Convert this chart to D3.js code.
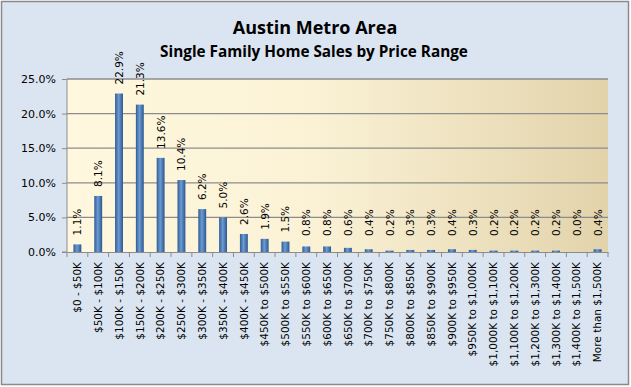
<!DOCTYPE html>
<html>
<head>
<meta charset="utf-8">
<script src="https://cdn.jsdelivr.net/npm/d3@7"></script>
<style>
  body { margin: 0; background: #fff; }
  text { font-family: "DejaVu Sans", sans-serif; }
</style>
</head>
<body>
<div class="chart"></div>
<script>
// chart data
const categories = ["$0 - $50K", "$50K - $100K", "$100K - $150K", "$150K - $200K", "$200K - $250K",
  "$250K - $300K", "$300K - $350K", "$350K - $400K", "$400K - $450K", "$450K to $500K",
  "$500K to $550K", "$550K to $600K", "$600K to $650K", "$650K to $700K", "$700K to $750K",
  "$750K to $800K", "$800K to $850K", "$850K to $900K", "$900K to $950K", "$950K to $1,000K",
  "$1,000K to $1,100K", "$1,100K to $1,200K", "$1,200K to $1,300K", "$1,300K to $1,400K",
  "$1,400K to $1,500K", "More than $1,500K"];
const shares = [1.1, 8.1, 22.9, 21.3, 13.6, 10.4, 6.2, 5.0, 2.6, 1.9, 1.5, 0.8, 0.8, 0.6, 0.4,
  0.2, 0.3, 0.3, 0.4, 0.3, 0.2, 0.2, 0.2, 0.2, 0.0, 0.4];
const yTicks = [0, 5, 10, 15, 20, 25];
const title = "Austin Metro Area";
const subtitle = "Single Family Home Sales by Price Range";

const W = 631, H = 387;
const margin = {top: 79, left: 67, right: 23, bottom: 135};
const width = W - margin.left - margin.right;
const height = H - margin.top - margin.bottom;

const root = d3.select(".chart").append("svg")
    .attr("width", W)
    .attr("height", H);

// gradients
const defs = root.append("defs");
const plotGrad = defs.append("linearGradient").attr("id", "plotbg")
    .attr("x1", "0%").attr("x2", "100%").attr("y1", "0%").attr("y2", "0%");
plotGrad.append("stop").attr("offset", "0%").attr("stop-color", "#fff8de");
plotGrad.append("stop").attr("offset", "45%").attr("stop-color", "#fbf2d6");
plotGrad.append("stop").attr("offset", "100%").attr("stop-color", "#e2d3ab");

const barGrad = defs.append("linearGradient").attr("id", "bar")
    .attr("x1", "0%").attr("x2", "100%").attr("y1", "0%").attr("y2", "0%");
barGrad.append("stop").attr("offset", "0%").attr("stop-color", "#2f5b92");
barGrad.append("stop").attr("offset", "45%").attr("stop-color", "#6d9bd3");
barGrad.append("stop").attr("offset", "100%").attr("stop-color", "#2c5690");

// chart background and border
root.append("rect")
    .attr("x", 1.5).attr("y", 1.5)
    .attr("width", W - 4).attr("height", H - 4)
    .attr("fill", "#dbe5f1")
    .attr("stroke", "#8a8a8a")
    .attr("stroke-width", 1.5);

root.append("text")
    .attr("x", 315).attr("y", 34)
    .attr("text-anchor", "middle")
    .style("font-family", "'Open Sans', sans-serif")
    .style("font-weight", "bold")
    .style("font-size", "18px")
    .text(title);

root.append("text")
    .attr("x", 314).attr("y", 57)
    .attr("text-anchor", "middle")
    .style("font-family", "'Open Sans', sans-serif")
    .style("font-weight", "bold")
    .style("font-size", "15.3px")
    .text(subtitle);

const svg = root.append("g")
    .attr("transform", `translate(${margin.left},${margin.top})`);

const xScale = d3.scaleBand()
    .domain(categories)
    .range([0, width])
    .paddingInner(0.62)
    .paddingOuter(0.31);

const yScale = d3.scaleLinear()
    .domain([0, 25])
    .range([height, 0]);

svg.append("rect")
    .attr("width", width).attr("height", height)
    .attr("fill", "url(#plotbg)");

// gridlines
svg.append("g")
    .selectAll("line")
    .data(yTicks.filter(d => d > 0))
    .join("line")
    .attr("x1", 0).attr("x2", width)
    .attr("y1", d => yScale(d)).attr("y2", d => yScale(d))
    .attr("stroke", "#8c8c8c")
    .attr("stroke-width", 1.3);

// bars
svg.append("g")
    .selectAll("rect")
    .data(shares)
    .join("rect")
    .attr("x", (d, i) => xScale(categories[i]))
    .attr("y", d => yScale(d))
    .attr("width", xScale.bandwidth())
    .attr("height", d => height - yScale(d))
    .attr("fill", "url(#bar)");

// value labels
svg.append("g")
    .selectAll("text")
    .data(shares)
    .join("text")
    .attr("transform", (d, i) => {
        const x = xScale(categories[i]) + xScale.bandwidth() / 2 + 4;
        const y = Math.min(yScale(d) - 9, height - 16);
        return `translate(${x},${y}) rotate(-90)`;
    })
    .style("font-size", "10.5px")
    .attr("fill", "#000")
    .text(d => d.toFixed(1) + "%");

// axes
const yAxis = d3.axisLeft(yScale)
    .tickValues(yTicks)
    .tickSize(5)
    .tickFormat(d => d.toFixed(1) + "%");

const yAxisChart = svg.append("g")
    .attr("class", "axis y-axis")
    .call(yAxis);
yAxisChart.select(".domain").attr("stroke", "#8c8c8c").attr("d", `M-5,${height}H0V0`);
yAxisChart.selectAll(".tick line").attr("stroke", "#8c8c8c");
yAxisChart.selectAll(".tick text")
    .attr("x", -11)
    .style("font-size", "11px")
    .style("font-family", "'DejaVu Sans', sans-serif")
    .attr("fill", "#000");

const xAxis = d3.axisBottom(xScale).tickSize(0).tickSizeOuter(0);
const xAxisChart = svg.append("g")
    .attr("class", "axis x-axis")
    .attr("transform", `translate(0,${height})`)
    .call(xAxis);
xAxisChart.select(".domain").attr("stroke", "#8c8c8c");
xAxisChart.selectAll(".tick text")
    .attr("transform", "rotate(-90)")
    .attr("text-anchor", "end")
    .attr("x", -10)
    .attr("y", 0)
    .attr("dy", "0.35em")
    .style("font-size", "10.5px")
    .style("font-family", "'DejaVu Sans', sans-serif")
    .attr("fill", "#000");

// ticks between categories
const step = xScale.step();
xAxisChart.append("g")
    .selectAll("line")
    .data(d3.range(categories.length + 1))
    .join("line")
    .attr("x1", i => i * step).attr("x2", i => i * step)
    .attr("y1", 0).attr("y2", 5)
    .attr("stroke", "#8c8c8c");
</script>
</body>
</html>
